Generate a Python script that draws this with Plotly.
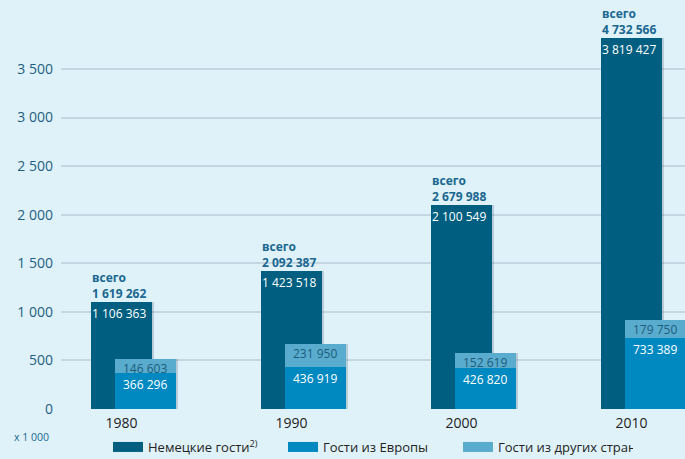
import plotly.graph_objects as go

years = ["1980", "1990", "2000", "2010"]
german = [1106363, 1423518, 2100549, 3819427]
europe = [366296, 436919, 426820, 733389]
other = [146603, 231950, 152619, 179750]
total = [1619262, 2092387, 2679988, 4732566]

y_tickvals = [0, 500, 1000, 1500, 2000, 2500, 3000, 3500]
y_ticktext = ["0", "500", "1 000", "1 500", "2 000", "2 500", "3 000", "3 500"]

names = ["Немецкие гости<sup>2)</sup>", "Гости из Европы", "Гости из других стран"]

C_DARK = "#005f80"
C_EU = "#0089c0"
C_OTHER = "#5aaccf"
BG = "#dff2fa"
TEAL = "#1a6790"
FONT = "Open Sans"

def fmt(v):
    return f"{v:,}".replace(",", " ")

xs = list(range(len(years)))
k = [v / 1000 for v in german]
e = [v / 1000 for v in europe]
o = [v / 1000 for v in other]

W = 0.359
OFF_D = -0.18
OFF_L = -0.039
SH = 0.014
SHADOW = "rgba(70,95,120,0.25)"

fig = go.Figure()
fig.add_trace(go.Bar(x=xs, y=k, width=W, offset=OFF_D + SH, marker=dict(color=SHADOW, line_width=0),
                     showlegend=False, hoverinfo="skip"))
fig.add_trace(go.Bar(x=xs, y=k, width=W, offset=OFF_D, marker=dict(color=C_DARK, line_width=0),
                     showlegend=False, name=names[0]))
fig.add_trace(go.Bar(x=xs, y=[a + b for a, b in zip(e, o)], width=W, offset=OFF_L + SH,
                     marker=dict(color=SHADOW, line_width=0), showlegend=False, hoverinfo="skip"))
fig.add_trace(go.Bar(x=xs, y=e, width=W, offset=OFF_L, marker=dict(color=C_EU, line_width=0),
                     showlegend=False, name=names[1]))
fig.add_trace(go.Bar(x=xs, y=o, base=e, width=W, offset=OFF_L, marker=dict(color=C_OTHER, line_width=0),
                     showlegend=False, name=names[2]))

for nm, c in zip(names, [C_DARK, C_EU, C_OTHER]):
    fig.add_trace(go.Scatter(x=[None], y=[None], mode="lines", name=nm,
                             line=dict(color=c, width=12), showlegend=True))

ann = []
for i in xs:
    ann.append(dict(x=i + OFF_D, y=k[i], xref="x", yref="y", xanchor="left", yanchor="bottom",
                    align="left", showarrow=False, xshift=-1, yshift=-2,
                    text="<b>всего<br>" + fmt(total[i]) + "</b>",
                    font=dict(family=FONT, size=12, color=TEAL)))
    ann.append(dict(x=i + OFF_D, y=k[i], xref="x", yref="y", xanchor="left", yanchor="top",
                    showarrow=False, xshift=-1, yshift=-1, text=fmt(german[i]),
                    font=dict(family=FONT, size=12, color="white")))
    ann.append(dict(x=i + OFF_L + W / 2, y=e[i] + o[i], xref="x", yref="y", xanchor="center",
                    yanchor="top", showarrow=False, yshift=1, text=fmt(other[i]),
                    font=dict(family=FONT, size=12, color="#1d5c7a")))
    ann.append(dict(x=i + OFF_L + W / 2, y=e[i], xref="x", yref="y", xanchor="center",
                    yanchor="top", showarrow=False, yshift=-1, text=fmt(europe[i]),
                    font=dict(family=FONT, size=12, color="white")))

ann.append(dict(x=(12 - 61) / 624, y=(409 - 437) / 409, xref="paper", yref="paper", xanchor="left",
                yanchor="middle", showarrow=False, text="x 1 000",
                font=dict(family=FONT, size=10.5, color=TEAL)))

fig.update_layout(
    width=685, height=459,
    margin=dict(l=61, r=0, t=0, b=50, pad=0),
    paper_bgcolor=BG, plot_bgcolor=BG,
    barmode="overlay",
    bargap=0,
    annotations=ann,
    showlegend=True,
    legend=dict(orientation="h", x=108 / 685, xref="container", xanchor="left",
                y=1 - 447 / 459, yref="container", yanchor="middle",
                entrywidthmode="pixels", entrywidth=130, itemwidth=30,
                font=dict(family=FONT, size=13, color="#222222"),
                bgcolor="rgba(0,0,0,0)", borderwidth=0, traceorder="normal"),
    xaxis=dict(range=[-0.356, 3.315], tickvals=xs, ticktext=years, showgrid=False,
               zeroline=False, showline=False, ticks="", ticklabelstandoff=4,
               tickfont=dict(family=FONT, size=14, color="#222222")),
    yaxis=dict(range=[0, 4210], tickvals=y_tickvals, ticktext=y_ticktext, showgrid=True,
               gridcolor="#c5d6e3", gridwidth=1.5, zeroline=False, showline=False, ticks="",
               ticklabelstandoff=7,
               tickfont=dict(family=FONT, size=14, color="#1f5f82")),
    font=dict(family=FONT),
)

fig.write_html("out.html", config={"displayModeBar": False},
               post_script="document.body.style.margin='0';")
